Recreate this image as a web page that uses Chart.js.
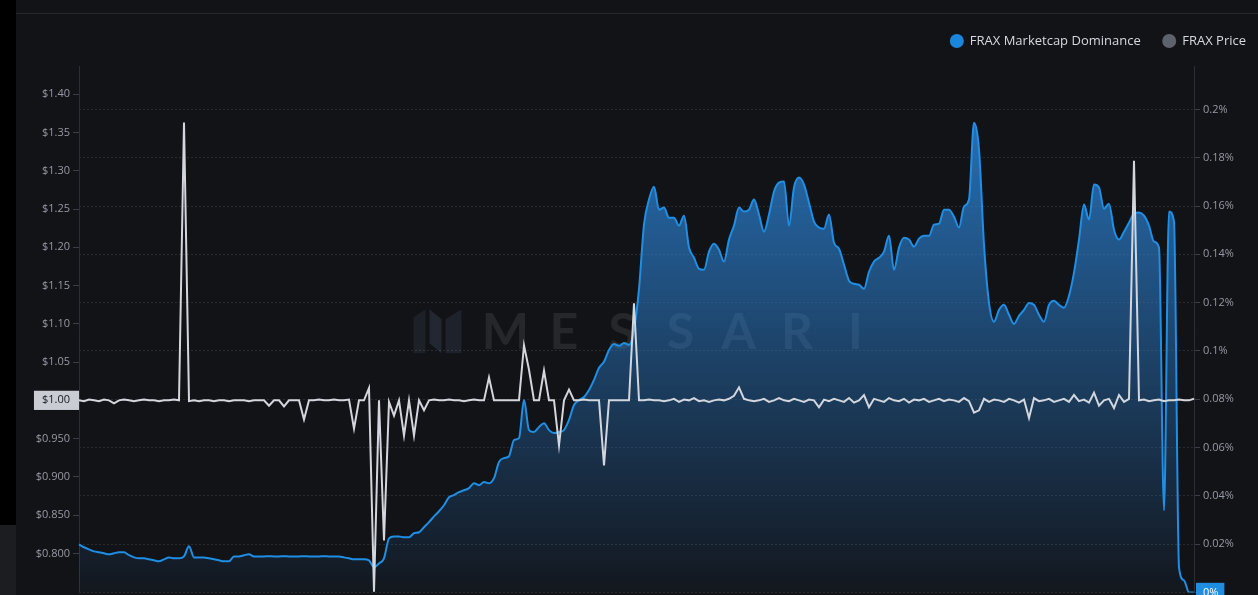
<!DOCTYPE html>
<html>
<head>
<meta charset="utf-8">
<script src="https://cdn.jsdelivr.net/npm/chart.js@4.4.0/dist/chart.umd.min.js"></script>
<style>
  html, body { margin: 0; padding: 0; background: #121317; overflow: hidden; }
  #side { position: absolute; left: 0; top: 0; width: 16px; height: 525px; background: #000; }
  #side2 { position: absolute; left: 0; top: 525px; width: 16px; height: 70px; background: #1c1d21; }
  #rule { position: absolute; left: 16px; top: 13px; width: 1242px; height: 1px; background: #26282d; z-index: 2; }
  #wrap { position: absolute; left: 16px; top: 0; width: 1252px; height: 602px; }
</style>
</head>
<body>
<div id="side"></div>
<div id="side2"></div>
<div id="rule"></div>
<div id="wrap"><canvas id="myChart"></canvas></div>
<script>
// FRAX marketcap dominance (%) and FRAX price ($), one value per day
const dominance = [
  0.0199, 0.0187, 0.0178, 0.0170, 0.0166, 0.0162, 0.0158, 0.0162, 0.0166, 0.0166,
  0.0154, 0.0145, 0.0141, 0.0141, 0.0137, 0.0133, 0.0129, 0.0137, 0.0145, 0.0141,
  0.0141, 0.0149, 0.0191, 0.0145, 0.0145, 0.0145, 0.0141, 0.0137, 0.0133, 0.0129,
  0.0129, 0.0149, 0.0149, 0.0154, 0.0158, 0.0149, 0.0149, 0.0149, 0.0150, 0.0149,
  0.0149, 0.0150, 0.0149, 0.0149, 0.0149, 0.0150, 0.0149, 0.0149, 0.0149, 0.0150,
  0.0149, 0.0149, 0.0149, 0.0145, 0.0141, 0.0137, 0.0137, 0.0137, 0.0133, 0.0104,
  0.0120, 0.0141, 0.0224, 0.0232, 0.0232, 0.0228, 0.0228, 0.0245, 0.0249, 0.0270,
  0.0291, 0.0315, 0.0336, 0.0361, 0.0394, 0.0403, 0.0415, 0.0423, 0.0432, 0.0452,
  0.0444, 0.0457, 0.0452, 0.0473, 0.0540, 0.0556, 0.0564, 0.0631, 0.0639, 0.0797,
  0.0672, 0.0664, 0.0685, 0.0701, 0.0672, 0.0660, 0.0664, 0.0672, 0.0714, 0.0776,
  0.0797, 0.0809, 0.0838, 0.0880, 0.0930, 0.0955, 0.1004, 0.1029, 0.1021, 0.1033,
  0.1025, 0.1087, 0.1257, 0.1523, 0.1627, 0.1680, 0.1585, 0.1594, 0.1552, 0.1552,
  0.1519, 0.1560, 0.1428, 0.1386, 0.1340, 0.1336, 0.1411, 0.1444, 0.1419, 0.1370,
  0.1461, 0.1519, 0.1594, 0.1577, 0.1585, 0.1627, 0.1565, 0.1494, 0.1565, 0.1660,
  0.1697, 0.1702, 0.1519, 0.1677, 0.1718, 0.1689, 0.1614, 0.1536, 0.1511, 0.1506,
  0.1565, 0.1448, 0.1423, 0.1357, 0.1291, 0.1278, 0.1274, 0.1257, 0.1328, 0.1370,
  0.1386, 0.1411, 0.1477, 0.1336, 0.1428, 0.1469, 0.1461, 0.1432, 0.1465, 0.1477,
  0.1477, 0.1523, 0.1527, 0.1585, 0.1585, 0.1556, 0.1511, 0.1598, 0.1627, 0.1945,
  0.1834, 0.1440, 0.1199, 0.1121, 0.1170, 0.1191, 0.1150, 0.1112, 0.1145, 0.1170,
  0.1199, 0.1191, 0.1150, 0.1121, 0.1191, 0.1208, 0.1191, 0.1179, 0.1228, 0.1324,
  0.1461, 0.1606, 0.1544, 0.1689, 0.1677, 0.1589, 0.1610, 0.1502, 0.1461, 0.1494,
  0.1531, 0.1569, 0.1573, 0.1560, 0.1519, 0.1453, 0.1428, 0.0340, 0.1577, 0.1536,
  0.0104, 0.0050, 0, 0
];

const price = [
  1.000, 0.999, 1.001, 1.000, 0.999, 1.001, 1.000, 0.996, 1.000, 1.001,
  1.000, 0.999, 1.000, 1.001, 1.000, 1.000, 0.999, 1.000, 1.000, 1.001,
  1.000, 1.363, 0.999, 1.000, 0.999, 1.000, 1.000, 0.999, 1.000, 1.000,
  0.999, 1.000, 1.000, 1.000, 0.999, 1.000, 1.000, 1.000, 0.993, 1.000,
  1.000, 0.992, 1.000, 1.000, 1.000, 0.975, 1.000, 1.000, 1.001, 1.000,
  1.000, 1.001, 1.000, 1.000, 1.001, 0.963, 1.000, 1.000, 1.016, 0.750,
  1.000, 0.817, 0.998, 0.980, 1.000, 0.954, 1.000, 0.954, 1.000, 0.987,
  1.000, 1.001, 1.000, 1.000, 1.001, 1.000, 1.000, 0.999, 1.000, 1.001,
  1.000, 1.000, 1.030, 1.000, 1.000, 1.000, 1.000, 1.000, 1.000, 1.072,
  1.040, 1.000, 1.000, 1.039, 1.000, 1.000, 0.941, 1.000, 1.014, 1.000,
  1.000, 1.001, 1.000, 1.000, 1.000, 0.915, 1.000, 1.000, 1.000, 1.000,
  1.000, 1.127, 1.000, 1.000, 1.001, 1.000, 1.000, 0.999, 1.000, 1.002,
  0.998, 1.001, 1.000, 1.003, 0.999, 1.000, 0.998, 1.000, 1.001, 1.000,
  1.002, 1.006, 1.017, 1.002, 1.000, 0.999, 1.000, 1.002, 0.998, 1.000,
  1.003, 1.000, 0.999, 1.002, 1.000, 0.998, 1.001, 1.000, 0.991, 1.001,
  0.999, 1.002, 1.000, 0.998, 1.003, 0.997, 1.000, 1.007, 0.991, 1.002,
  1.000, 0.998, 1.003, 1.000, 0.999, 1.002, 0.997, 1.001, 1.000, 1.002,
  0.998, 1.000, 1.002, 0.999, 1.001, 1.000, 0.998, 1.003, 0.999, 0.984,
  0.987, 1.002, 0.998, 1.001, 1.000, 0.998, 1.002, 1.000, 0.997, 1.001,
  0.977, 1.003, 0.999, 1.000, 1.002, 0.998, 1.000, 1.002, 0.998, 1.007,
  0.999, 1.001, 0.997, 1.010, 0.993, 1.000, 1.002, 0.990, 1.007, 0.998,
  1.002, 1.313, 1.000, 1.001, 0.999, 1.000, 1.001, 0.999, 1.000, 1.000,
  1.001, 1.000, 1.000, 1.002
];

const days = dominance.map((v, i) => "d" + i);

// tick labels
const priceTicks = [0.80, 0.85, 0.90, 0.95, 1.00, 1.05, 1.10, 1.15, 1.20, 1.25, 1.30, 1.35, 1.40];
const domTicks = [0, 0.02, 0.04, 0.06, 0.08, 0.1, 0.12, 0.14, 0.16, 0.18, 0.2];
const watermarkText = "MESSARI";

const tickFont = { family: "Open Sans", size: 11 };

function areaFill(context) {
    const chart = context.chart;
    const area = chart.chartArea;
    if (!area) return "rgba(45,135,220,0.4)";
    const g = chart.ctx.createLinearGradient(0, area.top, 0, area.bottom);
    g.addColorStop(0, "rgba(45,135,220,0.88)");
    g.addColorStop(0.5, "rgba(45,135,220,0.45)");
    g.addColorStop(1, "rgba(45,135,220,0.04)");
    return g;
}

// extra space under the legend
const legendGap = {
    id: "legendGap",
    beforeInit(chart) {
        const fit = chart.legend.fit;
        chart.legend.fit = function () {
            fit.call(this);
            this.height += 8.5;
        };
    }
};

const watermark = {
    id: "watermark",
    beforeDatasetsDraw(chart) {
        const ctx = chart.ctx;
        const a = chart.chartArea;
        const cx = (a.left + a.right) / 2;
        const cy = (a.top + a.bottom) / 2 + 2;
        ctx.save();
        ctx.fillStyle = "rgba(255,255,255,0.085)";
        ctx.font = "bold 50px Lato";
        ctx.textAlign = "center";
        ctx.textBaseline = "middle";
        for (let i = 0; i < watermarkText.length; i++) {
            ctx.fillText(watermarkText[i], cx - 131 + i * 58.3, cy + 2);
        }
        // logo
        const lx = cx - 223;
        ctx.fillStyle = "rgba(120,150,190,0.10)";
        ctx.beginPath();
        ctx.moveTo(lx, cy - 14); ctx.lineTo(lx + 12, cy - 22); ctx.lineTo(lx + 12, cy + 22); ctx.lineTo(lx, cy + 22);
        ctx.fill();
        ctx.fillStyle = "rgba(120,150,190,0.16)";
        ctx.beginPath();
        ctx.moveTo(lx + 16, cy - 22); ctx.lineTo(lx + 28, cy - 12); ctx.lineTo(lx + 28, cy + 22); ctx.lineTo(lx + 16, cy + 12);
        ctx.fill();
        ctx.fillStyle = "rgba(120,150,190,0.12)";
        ctx.beginPath();
        ctx.moveTo(lx + 32, cy - 12); ctx.lineTo(lx + 48, cy - 22); ctx.lineTo(lx + 48, cy + 22); ctx.lineTo(lx + 32, cy + 22);
        ctx.fill();
        ctx.restore();
    }
};

new Chart("myChart", {
    type: "line",
    data: {
        labels: days,
        datasets: [{
            label: "FRAX Marketcap Dominance",
            data: dominance,
            yAxisID: "dom",
            borderColor: "#1f8fe6",
            borderWidth: 2,
            backgroundColor: areaFill,
            fill: "start",
            pointRadius: 0,
            pointBackgroundColor: "#1a86dc",
            pointBorderColor: "#1a86dc",
            cubicInterpolationMode: "monotone",
            order: 1
        }, {
            label: "FRAX Price",
            data: price,
            yAxisID: "price",
            borderColor: "#d3d6dd",
            borderWidth: 2,
            fill: false,
            pointRadius: 0,
            pointBackgroundColor: "#5e626c",
            pointBorderColor: "#5e626c",
            tension: 0,
            order: 0
        }]
    },
    options: {
        responsive: true,
        maintainAspectRatio: false,
        animation: false,
        events: [],
        layout: { padding: { top: 12.5, right: 0, bottom: 0, left: 0 } },
        plugins: {
            tooltip: { enabled: false },
            legend: {
                position: "top",
                align: "end",
                labels: {
                    usePointStyle: true,
                    pointStyle: "circle",
                    boxWidth: 13,
                    boxHeight: 8.5,
                    padding: 22,
                    color: "#d5d8de",
                    font: { family: "Open Sans", size: 13 },
                    sort: (a, b) => a.datasetIndex - b.datasetIndex
                }
            }
        },
        scales: {
            x: { display: false },
            price: {
                type: "linear",
                position: "left",
                min: 0.749,
                max: 1.437,
                afterFit: (s) => { s.width = 63; },
                afterBuildTicks: (s) => { s.ticks = priceTicks.map(v => ({ value: v })); },
                grid: { drawOnChartArea: false, drawTicks: true, tickLength: 6, tickColor: "#3b3e46" },
                border: { display: true, color: "#2b2e35" },
                ticks: {
                    padding: 3,
                    font: tickFont,
                    color: (c) => c.tick && c.tick.value === 1 ? "#16181c" : "#969aa4",
                    showLabelBackdrop: (c) => !!c.tick && c.tick.value === 1,
                    backdropColor: "#c9ccd3",
                    backdropPadding: { left: 8, right: 10, top: 3, bottom: 3 },
                    callback: (v) => "$" + (v >= 1 ? v.toFixed(2) : v.toFixed(3))
                }
            },
            dom: {
                type: "linear",
                position: "right",
                min: 0,
                max: 0.218,
                afterFit: (s) => { s.width = 74; },
                afterBuildTicks: (s) => { s.ticks = domTicks.map(v => ({ value: v })); },
                grid: { color: "rgba(255,255,255,0.10)", drawTicks: true, tickLength: 6, tickColor: "#3b3e46" },
                border: { display: true, color: "#2b2e35", dash: [2, 2] },
                ticks: {
                    padding: 3,
                    font: tickFont,
                    color: (c) => c.tick && c.tick.value === 0 ? "#ffffff" : "#969aa4",
                    showLabelBackdrop: (c) => !!c.tick && c.tick.value === 0,
                    backdropColor: "#1f8de0",
                    backdropPadding: { left: 7, right: 6, top: 3, bottom: 3 },
                    callback: (v) => parseFloat(v.toFixed(2)) + "%"
                }
            }
        }
    },
    plugins: [legendGap, watermark]
});
</script>
</body>
</html>
